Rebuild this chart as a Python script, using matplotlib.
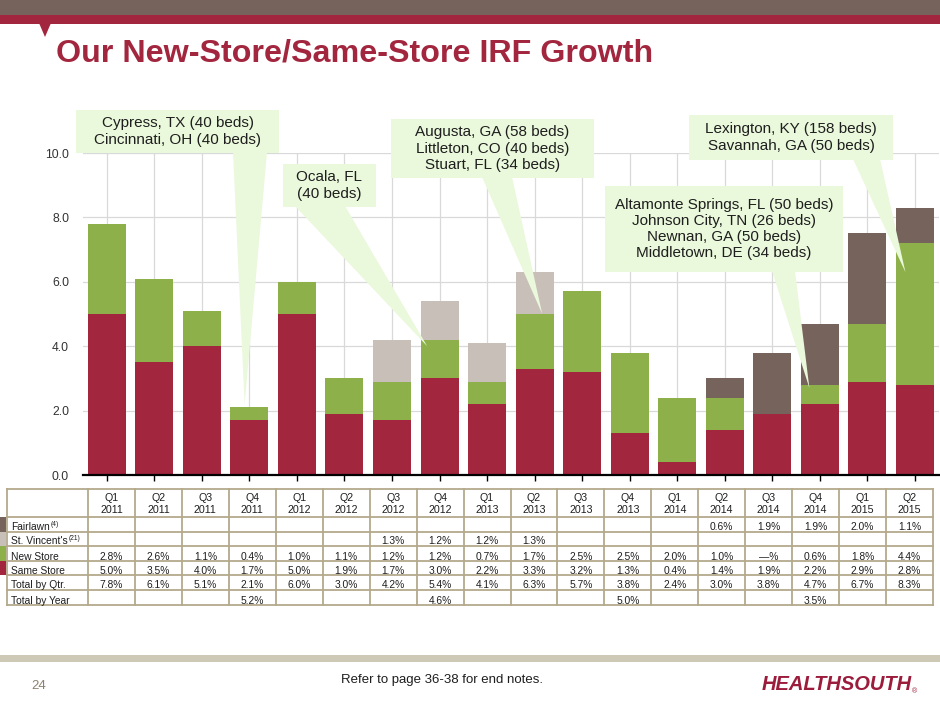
import matplotlib
matplotlib.use("Agg")
import matplotlib.pyplot as plt
from matplotlib import font_manager as fm
from matplotlib.patches import Polygon, Rectangle
import numpy as np

plt.rcParams["font.family"] = ["Liberation Sans", "DejaVu Sans"]


def has_font(name):
    try:
        fm.findfont(fm.FontProperties(family=name), fallback_to_default=False)
        return True
    except ValueError:
        return False


# the slide uses Arial Narrow for the table and footer
NARROW = next((f for f in ["Liberation Sans Narrow", "Arial Narrow"] if has_font(f)), None)
if NARROW:
    TFONT, TSIZE, FSIZE = NARROW, 8.8, 11.5
else:
    TFONT, TSIZE, FSIZE = "Liberation Sans", 7.4, 9.5

W, H = 940, 705

# ---------------------------------------------------------------------------
# data (bars as drawn, table text as printed)
# ---------------------------------------------------------------------------
quarters = ["Q1\n2011", "Q2\n2011", "Q3\n2011", "Q4\n2011",
            "Q1\n2012", "Q2\n2012", "Q3\n2012", "Q4\n2012",
            "Q1\n2013", "Q2\n2013", "Q3\n2013", "Q4\n2013",
            "Q1\n2014", "Q2\n2014", "Q3\n2014", "Q4\n2014",
            "Q1\n2015", "Q2\n2015"]
same_store = [5.0, 3.5, 4.0, 1.7, 5.0, 1.9, 1.7, 3.0, 2.2, 3.3, 3.2, 1.3,
              0.4, 1.4, 1.9, 2.2, 2.9, 2.8]
new_store = [2.8, 2.6, 1.1, 0.4, 1.0, 1.1, 1.2, 1.2, 0.7, 1.7, 2.5, 2.5,
             2.0, 1.0, 0.0, 0.6, 1.8, 4.4]
st_vincent = [0, 0, 0, 0, 0, 0, 1.3, 1.2, 1.2, 1.3, 0, 0,
              0, 0, 0, 0, 0, 0]
fairlawn = [0, 0, 0, 0, 0, 0, 0, 0, 0, 0, 0, 0,
            0, 0.6, 1.9, 1.9, 2.8, 1.1]

row_labels = ["Fairlawn", "St. Vincent's", "New Store", "Same Store",
              "Total by Qtr.", "Total by Year"]
row_notes = ["(4)", "(21)", "", "", "", ""]
t_fairlawn = [""] * 13 + ["0.6%", "1.9%", "1.9%", "2.0%", "1.1%"]
t_st_vincent = [""] * 6 + ["1.3%", "1.2%", "1.2%", "1.3%"] + [""] * 8
t_new_store = ["2.8%", "2.6%", "1.1%", "0.4%", "1.0%", "1.1%", "1.2%", "1.2%",
               "0.7%", "1.7%", "2.5%", "2.5%", "2.0%", "1.0%", "\u2014%", "0.6%",
               "1.8%", "4.4%"]
t_same_store = ["5.0%", "3.5%", "4.0%", "1.7%", "5.0%", "1.9%", "1.7%", "3.0%",
                "2.2%", "3.3%", "3.2%", "1.3%", "0.4%", "1.4%", "1.9%", "2.2%",
                "2.9%", "2.8%"]
t_total_qtr = ["7.8%", "6.1%", "5.1%", "2.1%", "6.0%", "3.0%", "4.2%", "5.4%",
               "4.1%", "6.3%", "5.7%", "3.8%", "2.4%", "3.0%", "3.8%", "4.7%",
               "6.7%", "8.3%"]
t_total_year = ["", "", "", "5.2%", "", "", "", "4.6%", "", "", "", "5.0%",
                "", "", "", "3.5%", "", ""]

callouts = [
    ("Cypress, TX (40 beds)\nCincinnati, OH (40 beds)", 3, 2.2),
    ("Ocala, FL\n(40 beds)", 7, 4.0),
    ("Augusta, GA (58 beds)\nLittleton, CO (40 beds)\nStuart, FL (34 beds)", 9, 5.0),
    ("Altamonte Springs, FL (50 beds)\nJohnson City, TN (26 beds)\n"
     "Newnan, GA (50 beds)\nMiddletown, DE (34 beds)", 15, 2.7),
    ("Lexington, KY (158 beds)\nSavannah, GA (50 beds)", 17, 6.3),
]
# box (x0, y0, x1, y1) and pointer base (xa, xb) in slide pixels, tip x-offset in bars
callout_layout = [
    ((76, 110, 279, 153), (233, 267), -0.1),
    ((283, 164, 376, 207), (295, 345), -0.26),
    ((391, 119, 594, 178), (482, 512), 0.16),
    ((605, 186, 843, 272), (772, 795), -0.22),
    ((689, 115, 893, 160), (853, 880), -0.2),
]

SAME_C = "#A3263F"
NEW_C = "#8DB04A"
STV_C = "#C9BFB9"
FAIR_C = "#76645C"
CALLOUT_C = "#EAF8DB"
GRID_C = "#D9D9D9"
TABLE_C = "#B4A98C"
TEXT_C = "#1E1E1E"

fig = plt.figure(figsize=(W / 100, H / 100), dpi=100)
fig.patch.set_facecolor("white")

# ---------------------------------------------------------------------------
# stacked bars
# ---------------------------------------------------------------------------
ax = fig.add_axes([83 / W, 1 - 475 / H, (938.7 - 83) / W, (475 - 153) / H])
x = np.arange(len(quarters))
bottom = np.zeros(len(x))
for vals, c in [(same_store, SAME_C), (new_store, NEW_C),
                (st_vincent, STV_C), (fairlawn, FAIR_C)]:
    ax.bar(x, vals, 0.8, bottom=bottom, color=c, zorder=2)
    bottom += np.array(vals)
ax.set_xlim(-0.5, len(x) - 0.5)
ax.set_ylim(0, 10)
yt = np.arange(0, 10.1, 2)
ax.set_yticks(yt)
ax.set_yticklabels([f"{v:.1f}" for v in yt])
ax.set_xticks(x)
ax.set_xticklabels([])
ax.set_axisbelow(True)
ax.grid(True, color=GRID_C, lw=0.9)
for s in ["top", "right", "left"]:
    ax.spines[s].set_visible(False)
ax.spines["bottom"].set_linewidth(1.6)
ax.tick_params(axis="x", length=4, width=1, direction="out")
ax.tick_params(axis="y", length=0, pad=10, labelsize=8.7, labelcolor="#333333")

# ---------------------------------------------------------------------------
# slide overlay in pixel coordinates
# ---------------------------------------------------------------------------
ov = fig.add_axes([0, 0, 1, 1])
ov.set_xlim(0, W)
ov.set_ylim(H, 0)
ov.axis("off")

ov.add_patch(Rectangle((0, 0), W, 15, color=FAIR_C, lw=0))
ov.add_patch(Rectangle((0, 15), W, 9, color=SAME_C, lw=0))
ov.add_patch(Polygon([(39, 23), (51, 23), (45, 37)], color=SAME_C, lw=0))
ov.text(56, 61, "Our New-Store/Same-Store IRF Growth", fontsize=23.2,
        fontweight="bold", color=SAME_C, va="baseline", ha="left")

# callouts
to_ov = ov.transData.inverted()
for (txt, bi, val), (box, base, dx) in zip(callouts, callout_layout):
    x0, y0, x1, y1 = box
    tip = to_ov.transform(ax.transData.transform((bi + dx, val)))
    ov.add_patch(Polygon([(base[0], y1 - 1), (base[1], y1 - 1), tuple(tip)],
                         color=CALLOUT_C, lw=0))
    ov.add_patch(Rectangle((x0, y0), x1 - x0, y1 - y0, color=CALLOUT_C, lw=0))
    ov.text((x0 + x1) / 2, (y0 + y1) / 2, txt, fontsize=11, color=TEXT_C,
            ha="center", va="center", linespacing=1.2)

# ---------------------------------------------------------------------------
# data table
# ---------------------------------------------------------------------------
rows_y = [489, 517, 532, 546, 561, 575, 590, 605]
col_w = (933 - 88) / len(quarters)
col_x = [7, 88] + [88 + col_w * (i + 1) for i in range(len(quarters))]
for cx in col_x:
    ov.plot([cx, cx], [rows_y[0], rows_y[-1]], color=TABLE_C, lw=1.3)
for ry in rows_y:
    ov.plot([col_x[0], col_x[-1]], [ry, ry], color=TABLE_C, lw=1.3)

for i, q in enumerate(quarters):
    ov.text(88 + col_w * (i + 0.5), (rows_y[0] + rows_y[1]) / 2 + 1, q,
            family=TFONT, fontsize=TSIZE + 0.3, color=TEXT_C, ha="center",
            va="center", linespacing=1.15)

table_rows = [t_fairlawn, t_st_vincent, t_new_store, t_same_store,
              t_total_qtr, t_total_year]
note_x = [51, 69]
for r, (lab, note, vals) in enumerate(zip(row_labels, row_notes, table_rows)):
    yb = rows_y[r + 2] - 1.5
    ov.text(11, yb, lab, family=TFONT, fontsize=TSIZE, color=TEXT_C,
            ha="left", va="baseline")
    if note:
        ov.text(note_x[r], yb - 4, note, family=TFONT, fontsize=TSIZE * 0.65,
                color=TEXT_C, ha="left", va="baseline")
    for i, v in enumerate(vals):
        if v:
            ov.text(88 + col_w * (i + 0.5), yb, v, family=TFONT, fontsize=TSIZE,
                    color=TEXT_C, ha="center", va="baseline")

for r, c in enumerate([FAIR_C, STV_C, NEW_C, SAME_C]):
    ov.add_patch(Rectangle((0, rows_y[r + 1]), 6, rows_y[r + 2] - rows_y[r + 1],
                           color=c, lw=0))

# ---------------------------------------------------------------------------
# footer
# ---------------------------------------------------------------------------
ov.add_patch(Rectangle((0, 655), W, 7, color="#CEC8B6", lw=0))
ov.text(39, 686, "24", family=TFONT, fontsize=FSIZE, color="#8C8170",
        ha="center", va="center")
ov.text(442, 680, "Refer to page 36-38 for end notes.", family=TFONT,
        fontsize=FSIZE, color=TEXT_C, ha="center", va="center")
ov.text(837, 685, "HEALTHSOUTH", fontsize=14.5, fontweight="bold", style="italic",
        color="#9C1C3C", ha="center", va="center")
ov.text(914, 692, "\u00ae", fontsize=5, color="#9C1C3C", ha="center", va="center")

fig.savefig("out.png", dpi=100)
